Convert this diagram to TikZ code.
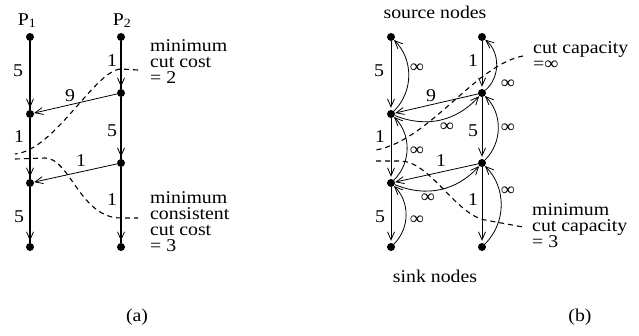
\documentclass[tikz,border=0pt]{standalone}
\usepackage{fontspec}
\setmainfont{Liberation Serif}[FakeStretch=1.1]
\usetikzlibrary{arrows.meta}

% stacked annotation lines, baseline on the first line, width of the widest line
\newcommand\notelines[1]{\vtop{\fontsize{18}{16}\selectfont\let\\\cr
  \halign{##\hfil\cr #1\crcr}}}

\begin{document}
\begin{tikzpicture}[x=1pt,y=-1pt,
  dot/.style={circle,fill=black,inner sep=0pt,minimum size=8pt},
  heavy/.style={line width=2.8pt},
  arr/.style={line width=0.8pt,-{Straight Barb[length=8pt,width=7pt]}},
  flow/.style={arr,shorten >=2pt},
  inf/.style={arr,bend right=#1},
  inf/.default=45,
  cutline/.style={line width=1.1pt,dash pattern=on 5pt off 4pt},
  lbl/.style={inner sep=0pt,font=\fontsize{18}{18}\selectfont},
  txt/.style={inner sep=0pt,anchor=base west},
]
\useasboundingbox (0,0) rectangle (639,335);

% ---------- (a) process graph ----------
\node[dot] (a1) at (30,37) {};
\node[dot] (a2) at (30,114) {};
\node[dot] (a3) at (30,183) {};
\node[dot] (a4) at (30,247) {};
\node[dot] (b1) at (121,37) {};
\node[dot] (b2) at (121,93) {};
\node[dot] (b3) at (121,163) {};
\node[dot] (b4) at (121,247) {};

\node[lbl,anchor=base] (pa) at (27,25) {P\textsubscript{1}};
\node[lbl,anchor=base] (pb) at (122,25) {P\textsubscript{2}};

\draw[heavy] (a1) -- (a2) -- (a3) -- (a4);
\draw[heavy] (b1) -- (b2) -- (b3) -- (b4);
\draw[flow] (a1) -- (a2);
\draw[flow] (a2) -- (a3);
\draw[flow] (a3) -- (a4);
\draw[flow] (b1) -- (b2);
\draw[flow] (b2) -- (b3);
\draw[flow] (b3) -- (b4);
\draw[arr] (b2) -- (a2);
\draw[arr] (b3) -- (a3);

\node[lbl] (wa1) at (18,71) {5};
\node[lbl] (wa2) at (19,137) {1};
\node[lbl] (wa3) at (19,217) {5};
\node[lbl] (wb1) at (112,61) {1};
\node[lbl] (wb2) at (112,131) {5};
\node[lbl] (wb3) at (112,200) {1};
\node[lbl] (wx1) at (70,96) {9};
\node[lbl] (wx2) at (81,161) {1};

% cuts
\coordinate (ca1) at (138,70);
\coordinate (ca2) at (15,154);
\draw[cutline] (ca1) -- (121,69) .. controls (95,70) and (55,150) .. (ca2);
\coordinate (cb1) at (15,159);
\coordinate (cb2) at (138,218);
\draw[cutline] (cb1) -- (45,158) .. controls (70,158) and (80,218) .. (121,218) -- (cb2);

\node[txt] (ta1) at (150,51) {\notelines{minimum\\cut cost\\= 2}};
\node[txt] (ta2) at (150,203) {\notelines{minimum\\consistent\\cut cost\\= 3}};

\node[lbl,anchor=base] (capa) at (137,321) {(a)};

% ---------- (b) flow network ----------
\node[dot] (c1) at (391,37) {};
\node[dot] (c2) at (391,114) {};
\node[dot] (c3) at (391,183) {};
\node[dot] (c4) at (391,247) {};
\node[dot] (d1) at (482,37) {};
\node[dot] (d2) at (482,93) {};
\node[dot] (d3) at (482,163) {};
\node[dot] (d4) at (482,247) {};

\node[lbl,anchor=base] (src) at (435,18) {source nodes};
\node[lbl,anchor=base] (snk) at (435,282) {sink nodes};

\draw[flow] (c1) -- (c2);
\draw[flow] (c2) -- (c3);
\draw[flow] (c3) -- (c4);
\draw[flow] (d1) -- (d2);
\draw[flow] (d2) -- (d3);
\draw[flow] (d3) -- (d4);
\draw[arr] (d2) -- (c2);
\draw[arr] (d3) -- (c3);

\draw[inf] (c2) to (c1);
\draw[inf] (c3) to (c2);
\draw[inf] (c4) to (c3);
\draw[inf=50] (d2) to (d1);
\draw[inf] (d3) to (d2);
\draw[inf] (d4) to (d3);
\draw[inf=35] (c2) to (d2);
\draw[inf=35] (c3) to (d3);

\node[lbl] (vc1) at (379,71) {5};
\node[lbl] (vc2) at (380,137) {1};
\node[lbl] (vc3) at (380,217) {5};
\node[lbl] (vd1) at (473,61) {1};
\node[lbl] (vd2) at (473,131) {5};
\node[lbl] (vd3) at (473,200) {1};
\node[lbl] (vx1) at (431,96) {9};
\node[lbl] (vx2) at (441,161) {1};

\node[lbl] (ic1) at (417,68) {∞};
\node[lbl] (ic2) at (417,151) {∞};
\node[lbl] (ic3) at (417,220) {∞};
\node[lbl] (id1) at (508,84) {∞};
\node[lbl] (id2) at (508,128) {∞};
\node[lbl] (id3) at (508,191) {∞};
\node[lbl] (ix1) at (447,127) {∞};
\node[lbl] (ix2) at (428,198) {∞};

% cuts
\coordinate (cc1) at (523,56);
\coordinate (cc2) at (376,150);
\draw[cutline] (cc1) .. controls (475,65) and (430,140) .. (cc2);
\coordinate (cd1) at (376,161);
\coordinate (cd2) at (523,227);
\draw[cutline] (cd1) -- (400,161) .. controls (430,161) and (455,214) .. (485,220) -- (cd2);

\node[txt] (tb1) at (533,53) {\notelines{cut capacity\\=∞}};
\node[txt] (tb2) at (532,215) {\notelines{minimum\\cut capacity\\= 3}};

\node[lbl,anchor=base] (capb) at (580,321) {(b)};
\end{tikzpicture}
\end{document}
